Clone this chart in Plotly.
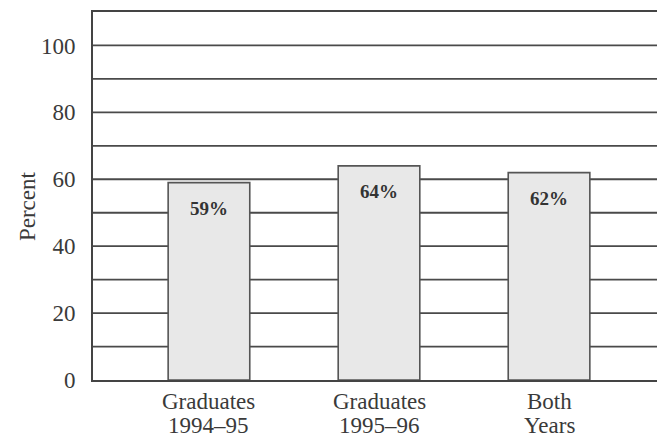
import plotly.graph_objects as go

# Share of graduates, by cohort
categories = [("Graduates", "1994–95"), ("Graduates", "1995–96"), ("Both", "Years")]
values = [59, 64, 62]
value_labels = ["59%", "64%", "62%"]

positions = list(range(len(categories)))
serif = "Liberation Serif, Times New Roman, serif"
ink = "#3a3a3a"

fig = go.Figure()
fig.add_trace(go.Bar(
    x=positions,
    y=values,
    width=0.48,
    marker=dict(color="#e8e8e8", line=dict(color="#555555", width=1.6)),
    hoverinfo="skip",
))

# Value labels just inside the top of each bar
for xpos, v, lab in zip(positions, values, value_labels):
    fig.add_annotation(
        x=xpos, y=v, text=lab, showarrow=False,
        yanchor="top", yshift=-13,
        font=dict(family=serif, size=19, color="#333333", weight="bold"),
    )

# Two-line category labels under the axis, set with tight leading
for xpos, (line1, line2) in zip(positions, categories):
    for text, shift in ((line1, -21), (line2, -45)):
        fig.add_annotation(
            x=xpos, xref="x", y=0, yref="paper", text=text, showarrow=False,
            yanchor="middle", yshift=shift,
            font=dict(family=serif, size=23, color=ink),
        )

# Axis title
fig.add_annotation(
    x=0, xref="paper", xanchor="center", xshift=-66,
    y=52, yref="y", text="Percent", textangle=-90, showarrow=False,
    font=dict(family=serif, size=23, color=ink),
)

fig.update_layout(
    width=657, height=438,
    margin=dict(l=93, r=0, t=12, b=58),
    paper_bgcolor="white", plot_bgcolor="white",
    showlegend=False,
    font=dict(family=serif, size=23, color=ink),
    xaxis=dict(
        range=[-0.682, 2.635],
        tickvals=positions, showticklabels=False,
        showgrid=False, zeroline=False, automargin=False,
        showline=True, mirror=True, linecolor="#444444", linewidth=2,
        ticks="",
    ),
    yaxis=dict(
        range=[0, 110],
        tickvals=[0, 20, 40, 60, 80, 100],
        showgrid=False, zeroline=False, automargin=False,
        showline=True, linecolor="#444444", linewidth=2,
        ticks="", ticklabelstandoff=11,
        tickfont=dict(family=serif, size=23, color=ink),
    ),
)

# Horizontal rules every 10 percent, drawn beneath the bars
for g in range(10, 110, 10):
    fig.add_shape(
        type="line", xref="paper", x0=0, x1=1, yref="y", y0=g, y1=g,
        line=dict(color="#4a4a4a", width=1.8), layer="below",
    )

fig.write_html("out.html")
